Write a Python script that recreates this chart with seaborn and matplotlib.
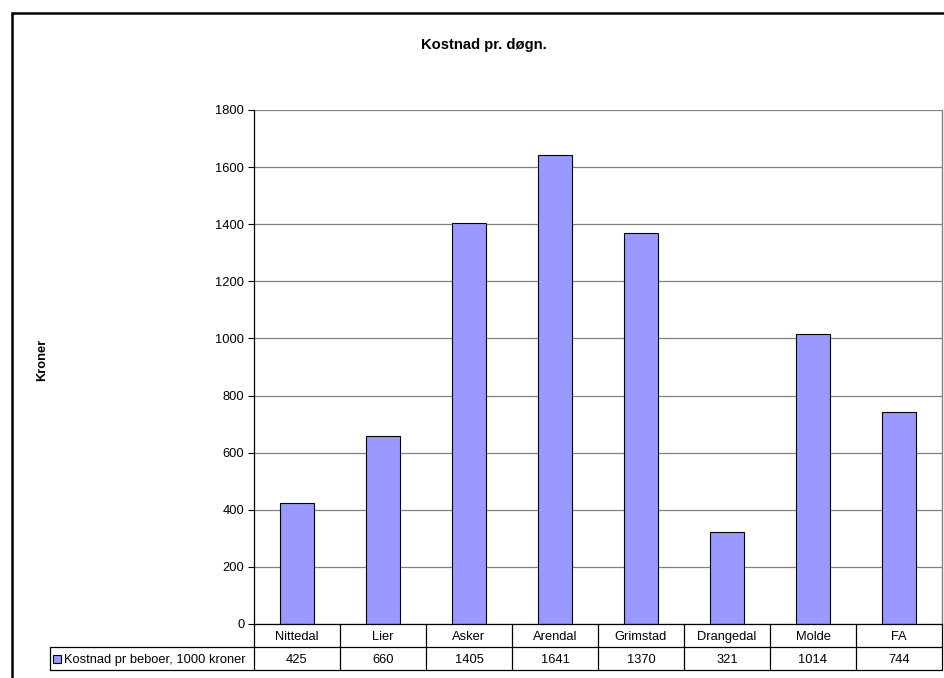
import matplotlib
matplotlib.use("Agg")
import matplotlib.pyplot as plt
from matplotlib.patches import Rectangle
import seaborn as sns
import pandas as pd

# Data
kommuner = ["Nittedal", "Lier", "Asker", "Arendal", "Grimstad", "Drangedal", "Molde", "FA"]
kostnad = [425, 660, 1405, 1641, 1370, 321, 1014, 744]
serie_navn = "Kostnad pr beboer, 1000 kroner"
y_ticks = [0, 200, 400, 600, 800, 1000, 1200, 1400, 1600, 1800]

df = pd.DataFrame({"Kommune": kommuner, "Kostnad": kostnad})

sns.set_theme(style="white")
plt.rcParams["font.family"] = ["Liberation Sans", "DejaVu Sans"]

FS = 9.3

W, H = 945, 678
fig = plt.figure(figsize=(W / 100, H / 100), dpi=100)
left, right, top, bottom = 254, 942, 110, 624
ax = fig.add_axes([left / W, 1 - bottom / H, (right - left) / W, (bottom - top) / H])

bar_color = "#9999FF"
sns.barplot(data=df, x="Kommune", y="Kostnad", ax=ax, color=bar_color,
            saturation=1, width=0.4, edgecolor="black", linewidth=0.8, zorder=3)

ax.set_xlim(-0.5, len(kommuner) - 0.5)
ax.set_ylim(0, 1800)
ax.set_yticks(y_ticks)
ax.set_yticklabels([str(t) for t in y_ticks], fontsize=FS, color="black")
ax.tick_params(axis="y", direction="out", length=4, width=0.8, color="black", pad=3, left=True)
ax.tick_params(axis="x", bottom=False, labelbottom=False)
ax.set_xlabel("")
ax.set_ylabel("")
ax.yaxis.grid(True, color="#808080", linewidth=0.9, zorder=0)
ax.set_axisbelow(True)

for side in ["top", "bottom"]:
    ax.spines[side].set_visible(False)
ax.spines["left"].set_color("black")
ax.spines["left"].set_linewidth(0.9)
ax.spines["right"].set_color("#808080")
ax.spines["right"].set_linewidth(1.0)

# Data table beneath the plot
ax_w = right - left
ax_h = bottom - top
row_h = 23 / ax_h
leg_x = (50 - left) / ax_w
lc = dict(color="black", linewidth=0.9, transform=ax.transAxes, clip_on=False, zorder=5)

ax.plot([0, 1], [0, 0], **lc)
ax.plot([leg_x, 1], [-row_h, -row_h], **lc)
ax.plot([leg_x, 1], [-2 * row_h, -2 * row_h], **lc)
ax.plot([leg_x, leg_x], [-row_h, -2 * row_h], **lc)
n = len(kommuner)
for i in range(n + 1):
    xa = i / n
    ax.plot([xa, xa], [0, -2 * row_h], **lc)

for i, (navn, verdi) in enumerate(zip(kommuner, kostnad)):
    xa = (i + 0.5) / n
    ax.text(xa, -0.5 * row_h, navn, transform=ax.transAxes, ha="center",
            va="center_baseline", fontsize=FS, color="black")
    ax.text(xa, -1.5 * row_h, str(verdi), transform=ax.transAxes, ha="center",
            va="center_baseline", fontsize=FS, color="black")

# Legend key in the table's first cell
sq = 8
ax.add_patch(Rectangle(((53 - left) / ax_w, -1.5 * row_h - (sq / 2) / ax_h), sq / ax_w, sq / ax_h,
                       transform=ax.transAxes, facecolor=bar_color, edgecolor="black",
                       linewidth=0.8, clip_on=False, zorder=6))
ax.text((64 - left) / ax_w, -1.5 * row_h, serie_navn, transform=ax.transAxes,
        ha="left", va="center_baseline", fontsize=FS, color="black")

# Titles
fig.text(484 / W, 1 - 45 / H, "Kostnad pr. døgn.", ha="center", va="center",
         fontsize=10.6, fontweight="bold", color="black")
ax.text((42 - left) / ax_w, (bottom - 360) / ax_h, "Kroner", transform=ax.transAxes,
        rotation=90, ha="center", va="center", fontsize=FS, fontweight="bold", color="black")

# Chart frame
fig.patches.append(Rectangle((12 / W, -0.2), 1.5, 1.2 - 13 / H, transform=fig.transFigure,
                             fill=False, edgecolor="black", linewidth=1.8, zorder=10))

fig.savefig("out.png", dpi=100, facecolor="white")
